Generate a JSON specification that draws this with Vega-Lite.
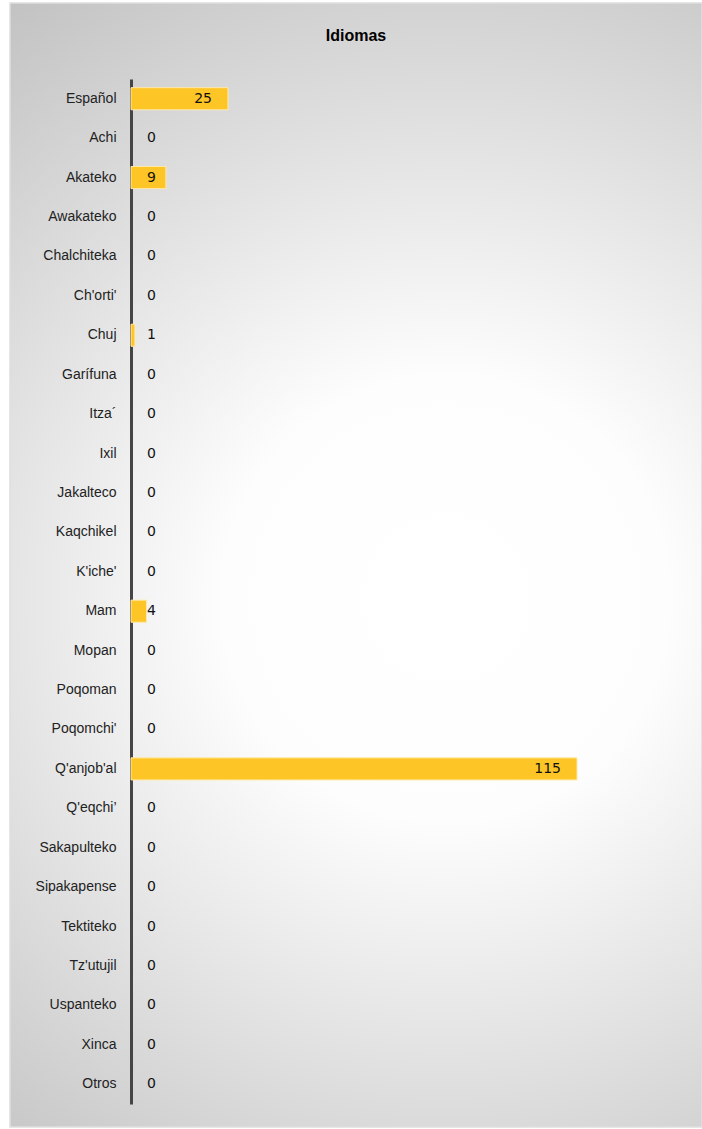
{
  "$schema": "https://vega.github.io/schema/vega-lite/v6.json",
  "width": 692,
  "height": 1124,
  "autosize": {"type": "none"},
  "padding": {"left": 10, "top": 3, "right": 0, "bottom": 2},
  "background": "white",
  "title": {
    "text": "Idiomas",
    "font": "Liberation Sans",
    "fontSize": 16,
    "fontWeight": "bold",
    "color": "#000000",
    "anchor": "middle",
    "frame": "group",
    "offset": -41
  },
  "config": {
    "view": {
      "stroke": "#dedede",
      "strokeWidth": 1.5,
      "fill": {
        "gradient": "radial",
        "x1": 0.58, "y1": 0.53, "r1": 0,
        "x2": 0.58, "y2": 0.53, "r2": 0.66,
        "stops": [
          {"offset": 0, "color": "#ffffff"},
          {"offset": 0.3, "color": "#fdfdfd"},
          {"offset": 1, "color": "#c2c2c2"}
        ]
      }
    }
  },
  "data": {
    "values": [
      {"idioma": "Español", "valor": 25},
      {"idioma": "Achi", "valor": 0},
      {"idioma": "Akateko", "valor": 9},
      {"idioma": "Awakateko", "valor": 0},
      {"idioma": "Chalchiteka", "valor": 0},
      {"idioma": "Ch'orti'", "valor": 0},
      {"idioma": "Chuj", "valor": 1},
      {"idioma": "Garífuna", "valor": 0},
      {"idioma": "Itza´", "valor": 0},
      {"idioma": "Ixil", "valor": 0},
      {"idioma": "Jakalteco", "valor": 0},
      {"idioma": "Kaqchikel", "valor": 0},
      {"idioma": "K'iche'", "valor": 0},
      {"idioma": "Mam", "valor": 4},
      {"idioma": "Mopan", "valor": 0},
      {"idioma": "Poqoman", "valor": 0},
      {"idioma": "Poqomchi'", "valor": 0},
      {"idioma": "Q'anjob'al", "valor": 115},
      {"idioma": "Q'eqchi’", "valor": 0},
      {"idioma": "Sakapulteko", "valor": 0},
      {"idioma": "Sipakapense", "valor": 0},
      {"idioma": "Tektiteko", "valor": 0},
      {"idioma": "Tz'utujil", "valor": 0},
      {"idioma": "Uspanteko", "valor": 0},
      {"idioma": "Xinca", "valor": 0},
      {"idioma": "Otros", "valor": 0}
    ]
  },
  "encoding": {
    "y": {
      "field": "idioma",
      "type": "nominal",
      "sort": null,
      "scale": {"range": [76, 1101], "paddingInner": 0.44, "paddingOuter": 0.22},
      "axis": {
        "title": null,
        "offset": -121,
        "domainColor": "#454545",
        "domainWidth": 3,
        "ticks": false,
        "grid": false,
        "labelFont": "Liberation Sans",
        "labelFontSize": 14,
        "labelColor": "#222222",
        "labelPadding": 15
      }
    }
  },
  "layer": [
    {
      "mark": {"type": "bar", "color": "#fdc526", "stroke": "#ffe9a8"},
      "encoding": {
        "x": {
          "field": "valor",
          "type": "quantitative",
          "scale": {"domain": [0, 115], "range": [121, 567], "nice": false, "zero": true},
          "axis": null
        },
        "strokeWidth": {"condition": {"test": "datum.valor == 0", "value": 0}, "value": 1}
      }
    },
    {
      "transform": [{"filter": "datum.valor >= 10"}],
      "mark": {"type": "text", "align": "right", "baseline": "middle", "dx": -16, "font": "DejaVu Sans", "fontSize": 14, "color": "#111111"},
      "encoding": {
        "x": {"field": "valor", "type": "quantitative"},
        "text": {"field": "valor", "type": "quantitative"}
      }
    },
    {
      "transform": [{"filter": "datum.valor < 10"}],
      "mark": {"type": "text", "align": "left", "baseline": "middle", "dx": 16, "font": "DejaVu Sans", "fontSize": 14, "color": "#111111"},
      "encoding": {
        "x": {"datum": 0, "type": "quantitative"},
        "text": {"field": "valor", "type": "quantitative"}
      }
    }
  ]
}
